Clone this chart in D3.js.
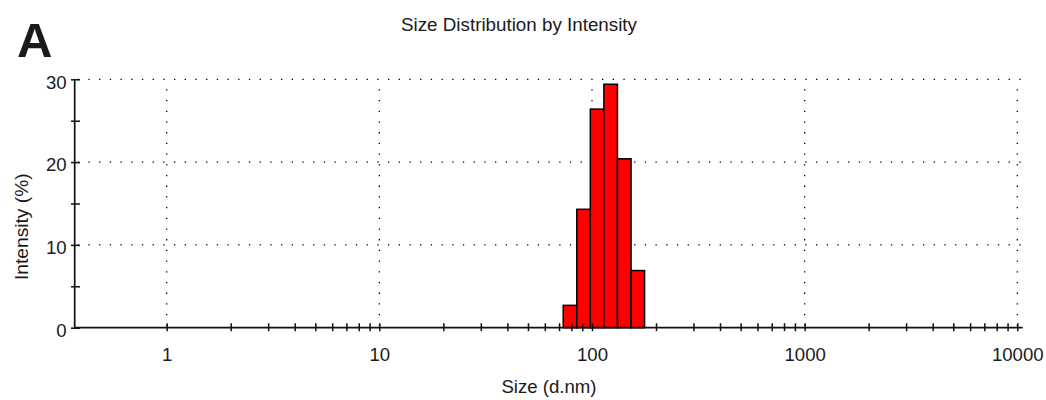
<!DOCTYPE html>
<html lang="en">
<head>
    <meta charset="UTF-8">
    <script src="https://d3js.org/d3.v7.min.js"></script>
    <title>Size Distribution by Intensity</title>
    <style>
        body {
            margin: 0;
            overflow: hidden;
            background: white;
        }

        text {
            font-family: "Liberation Sans", Arial, sans-serif;
            fill: #1a1a1a;
        }
    </style>
</head>
<body>
    <script>
        const width = 1046,
              height = 400;

        // size classes (d.nm) and intensity (%)
        const sizes = [78.82, 91.28, 105.7, 122.4, 141.8, 164.2];
        const intensities = [2.7, 14.3, 26.4, 29.4, 20.4, 6.9];
        const binRatio = 1.1583;

        const xMajor = [1, 10, 100, 1000, 10000];
        const xLabels = ["1", "10", "100", "1000", "10000"];
        const yMajor = [0, 10, 20, 30];
        const yMinor = [5, 15, 25];

        const svg = d3.select('body')
            .append('svg')
            .attr('width', width)
            .attr('height', height);

        const margin = { left: 74.7, right: 1022.7, top: 79.3, bottom: 327.7 };

        const x = d3.scaleLog()
            .domain([Math.pow(10, -0.4326), Math.pow(10, 4.0254)])
            .range([margin.left, margin.right]);

        const y = d3.scaleLinear()
            .domain([0, 30])
            .range([margin.bottom, margin.top]);

        // dotted grid
        const grid = svg.append('g')
            .attr('stroke', '#000')
            .attr('stroke-width', 1.3)
            .attr('stroke-dasharray', '1.3,9.4');

        grid.selectAll('.hgrid')
            .data(yMajor.filter(d => d > 0))
            .enter()
            .append('line')
            .attr('x1', margin.left + 3)
            .attr('x2', margin.right)
            .attr('y1', d => y(d))
            .attr('y2', d => y(d));

        grid.selectAll('.vgrid')
            .data(xMajor)
            .enter()
            .append('line')
            .attr('x1', d => x(d))
            .attr('x2', d => x(d))
            .attr('y1', y(30) + 10)
            .attr('y2', margin.bottom);

        // bars
        svg.selectAll('rect.bar')
            .data(sizes.map((s, i) => ({ size: s, value: intensities[i] })))
            .enter()
            .append('rect')
            .attr('class', 'bar')
            .attr('x', d => x(d.size / Math.sqrt(binRatio)))
            .attr('width', d => x(d.size * Math.sqrt(binRatio)) - x(d.size / Math.sqrt(binRatio)))
            .attr('y', d => y(d.value))
            .attr('height', d => y(0) - y(d.value))
            .attr('fill', '#ff0000')
            .attr('stroke', '#000')
            .attr('stroke-width', 1.5);

        // x axis
        const xTicks = [];
        for (let dec = 1; dec < 10000; dec *= 10) {
            for (let k = 1; k < 10; k++) xTicks.push(dec * k);
        }
        xTicks.push(10000);

        const xAxis = d3.axisBottom(x)
            .tickValues(xTicks)
            .tickSize(3.5)
            .tickFormat(d => {
                const i = xMajor.indexOf(d);
                return i >= 0 ? xLabels[i] : '';
            });

        const xAxisGroup = svg.append('g')
            .attr('transform', `translate(0, ${margin.bottom})`)
            .call(xAxis);

        xAxisGroup.select('.domain')
            .attr('d', `M${margin.left},0H${margin.right}`)
            .attr('stroke', '#111')
            .attr('stroke-width', 1.7);

        xAxisGroup.selectAll('.tick line')
            .attr('y1', -4.5)
            .attr('stroke', '#111')
            .attr('stroke-width', 1.5);

        xAxisGroup.selectAll('.tick text')
            .attr('y', 0)
            .attr('dy', 0)
            .attr('transform', 'translate(0, 33)')
            .style('font-size', '18.6px')
            .attr('fill', '#1a1a1a');

        // y axis
        const yAxis = d3.axisLeft(y)
            .tickValues(yMajor.concat(yMinor))
            .tickSize(3.7)
            .tickFormat(d => yMajor.includes(d) ? d : '');

        const yAxisGroup = svg.append('g')
            .attr('transform', `translate(${margin.left}, 0)`)
            .call(yAxis);

        yAxisGroup.select('.domain')
            .attr('d', `M0,${margin.top}V${margin.bottom}`)
            .attr('stroke', '#111')
            .attr('stroke-width', 1.7);

        yAxisGroup.selectAll('.tick line')
            .attr('x2', 5.3)
            .attr('x1', -3.7)
            .attr('stroke', '#111')
            .attr('stroke-width', 1.5);

        yAxisGroup.selectAll('.tick text')
            .attr('x', -8)
            .attr('dy', '0.47em')
            .style('font-size', '18.6px')
            .attr('fill', '#1a1a1a');

        svg.selectAll('.domain').attr('fill', 'none');

        // titles
        svg.append('text')
            .attr('x', 519)
            .attr('y', 31)
            .attr('text-anchor', 'middle')
            .style('font-size', '18.8px')
            .text('Size Distribution by Intensity');

        svg.append('text')
            .attr('x', 549)
            .attr('y', 393)
            .attr('text-anchor', 'middle')
            .style('font-size', '18.6px')
            .text('Size (d.nm)');

        svg.append('text')
            .attr('transform', 'translate(28, 226.7) rotate(-90)')
            .attr('text-anchor', 'middle')
            .style('font-size', '19.2px')
            .text('Intensity (%)');

        svg.append('text')
            .attr('x', 17)
            .attr('y', 57)
            .style('font-size', '49px')
            .style('font-weight', 'bold')
            .attr('fill', '#000')
            .text('A');
    </script>
</body>
</html>
